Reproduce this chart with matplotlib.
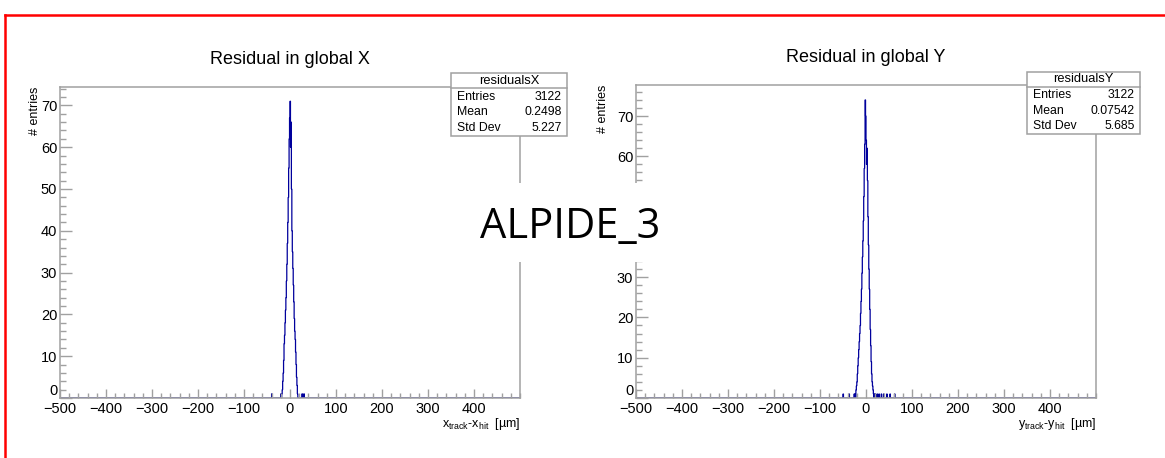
import numpy as np
import matplotlib
matplotlib.use('Agg')
import matplotlib.pyplot as plt
from matplotlib.patches import Rectangle
from matplotlib.lines import Line2D
from matplotlib.ticker import MultipleLocator, FixedLocator

plt.rcParams['font.family'] = ['Liberation Sans', 'DejaVu Sans']

# residual histograms, 1 um bins; only non-empty bins listed (bin centre in um : entries)
res_x_pos = [-40, -20, -18, -17, -16, -15, -14, -13, -12, -11, -10, -9, -8, -7, -6, -5,
             -4, -3, -2, -1, 0, 1, 2, 3, 4, 5, 6, 7, 8, 9, 10, 11, 12, 13, 14, 15, 16,
             26, 30]
res_x_cnt = [1, 1, 1, 2, 4, 6, 9, 13, 15, 18, 21, 24, 28, 32, 37, 42,
             48, 55, 62, 67, 71, 60, 66, 50, 40, 35, 31, 27, 23, 19, 16, 14, 11, 8, 5, 3, 1,
             1, 1]

res_y_pos = [-50, -37, -26, -24, -22, -21, -20, -19, -18, -17, -16, -15, -14, -13, -12,
             -11, -10, -9, -8, -7, -6, -5, -4, -3, -2, -1, 0, 1, 2, 3, 4, 5, 6, 7, 8, 9,
             10, 11, 12, 13, 14, 15, 16, 18, 20, 24, 28, 33, 38, 45, 52, 62]
res_y_cnt = [1, 1, 1, 1, 2, 3, 4, 6, 8, 10, 12, 14, 16, 18, 21,
             24, 27, 31, 35, 39, 44, 50, 57, 63, 74, 70, 64, 58, 62, 54, 45, 38, 32, 27, 22, 17,
             13, 9, 6, 4, 3, 2, 1, 1, 1, 1, 1, 1, 1, 1, 1, 1]

stats_x = [('Entries', '3122'), ('Mean', '0.2498'), ('Std Dev', '5.227')]
stats_y = [('Entries', '3122'), ('Mean', '0.07542'), ('Std Dev', '5.685')]

xtick_vals = np.arange(-500, 401, 100)
ytick_vals = np.arange(0, 71, 10)

W, H = 1165, 458
fig = plt.figure(figsize=(W / 100, H / 100), dpi=100)
fig.patch.set_facecolor('white')

edges = np.arange(-500, 501, 1)
frame_col = '#a0a0a0'


def px(x, y):
    # pixel position -> figure fraction
    return x / W, 1 - y / H


def make_hist(pos, cnt):
    h = np.zeros(len(edges) - 1)
    for p, c in zip(pos, cnt):
        h[p + 500] = c
    return h


def rect_top_px(rect):
    return (1 - (rect[1] + rect[3])) * H


def draw_panel(rect, pos, cnt, ytop, title, tx, ty, xlab, ylab_x, hide_y=()):
    ax = fig.add_axes(rect)
    ax.stairs(make_hist(pos, cnt), edges, color='#00009c', lw=0.9)
    ax.set_xlim(-500, 500)
    ax.set_ylim(0, ytop)
    for s in ax.spines.values():
        s.set_color(frame_col)
        s.set_linewidth(1.1)
    ax.xaxis.set_major_locator(FixedLocator(xtick_vals))
    ax.xaxis.set_minor_locator(MultipleLocator(20))
    ax.yaxis.set_major_locator(FixedLocator(ytick_vals))
    ax.yaxis.set_minor_locator(MultipleLocator(2))
    ax.tick_params(axis='x', which='major', direction='in', length=6.5, width=1,
                   color=frame_col, labelsize=10.5, pad=3)
    ax.tick_params(axis='x', which='minor', direction='in', length=3.3, width=1,
                   color=frame_col)
    ax.tick_params(axis='y', which='major', direction='in', length=8.5, width=1,
                   color=frame_col, labelsize=10.5, pad=2)
    ax.tick_params(axis='y', which='minor', direction='in', length=4.3, width=1,
                   color=frame_col)
    ax.set_xticklabels([str(v).replace('-', '\u2212') for v in xtick_vals])
    # labels sitting under the middle label patch are left blank
    ax.set_yticklabels(['' if v in hide_y else str(v) for v in ytick_vals])
    for t in ax.get_yticklabels():
        if t.get_text() == '0':
            t.set_verticalalignment('bottom')
    fig.text(*px(tx, ty), title, fontsize=13, ha='center', va='center')
    fig.text(rect[0] + rect[2], px(0, 424)[1], xlab, fontsize=9, ha='right', va='center')
    fig.text(*px(ylab_x, rect_top_px(rect)), '# entries', fontsize=9, rotation=90,
             ha='center', va='top')
    return ax


def stats_box(x0, y0, x1, y1, yline, name, rows, row_y):
    l, t = px(x0, y0)
    r, b = px(x1, y1)
    fig.add_artist(Rectangle((l, b), r - l, t - b, transform=fig.transFigure,
                             facecolor='white', edgecolor=frame_col, lw=1.1, zorder=5))
    fig.add_artist(Line2D([l, r], [px(0, yline)[1]] * 2, transform=fig.transFigure,
                          color=frame_col, lw=1.1, zorder=6))
    fig.text((l + r) / 2, px(0, (y0 + yline) / 2)[1], name, fontsize=9.3,
             ha='center', va='center', zorder=7)
    for (lab, val), yy in zip(rows, row_y):
        fig.text(l + 6 / W, px(0, yy)[1], lab, fontsize=8.8, ha='left', va='center', zorder=7)
        fig.text(r - 5 / W, px(0, yy)[1], val, fontsize=8.8, ha='right', va='center', zorder=7)


axL = draw_panel([60 / W, 60 / H, 460 / W, 311 / H], res_x_pos, res_x_cnt, 74.4,
                 'Residual in global X', 290, 60,
                 r'$\mathregular{x_{track}}$-$\mathregular{x_{hit}}$  [µm]', 35)
axR = draw_panel([636 / W, 60 / H, 460 / W, 313 / H], res_y_pos, res_y_cnt, 77.7,
                 'Residual in global Y', 866, 58,
                 r'$\mathregular{y_{track}}$-$\mathregular{y_{hit}}$  [µm]', 603,
                 hide_y=(40, 50))

stats_box(451, 73, 567, 136, 88, 'residualsX', stats_x, [97, 112, 128])
stats_box(1027, 72, 1140, 134, 87, 'residualsY', stats_y, [95, 111, 126])

# label across the middle on a white patch
l, t = px(470, 183)
r, b = px(672, 262)
fig.add_artist(Rectangle((l, b), r - l, t - b, transform=fig.transFigure,
                         facecolor='white', edgecolor='none', zorder=8))
fig.text(*px(570, 238), 'ALPIDE_3', fontsize=30, family=['Open Sans', 'DejaVu Sans'],
         ha='center', va='baseline', zorder=9)

# red outline
fig.add_artist(Line2D([4.5 / W, 1], [px(0, 14.5)[1]] * 2, transform=fig.transFigure,
                      color='red', lw=1.8, zorder=10))
fig.add_artist(Line2D([4.5 / W] * 2, [0, px(0, 14.5)[1]], transform=fig.transFigure,
                      color='red', lw=1.8, zorder=10))

fig.savefig('out.png', dpi=100)
